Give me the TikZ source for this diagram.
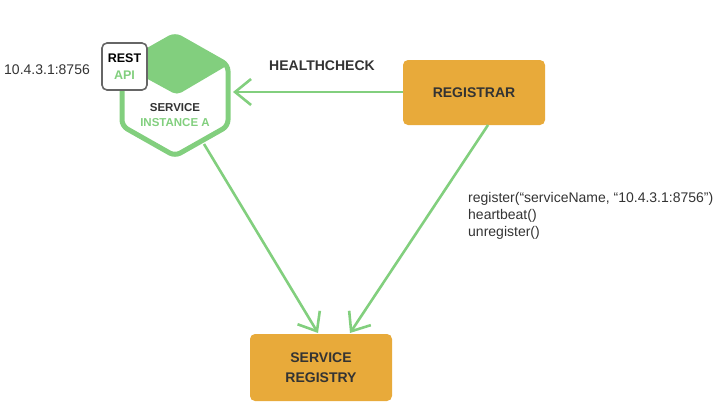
\documentclass[tikz,border=0pt]{standalone}
\usepackage{fontspec}
\setmainfont{Liberation Sans}
\usetikzlibrary{arrows.meta}
\definecolor{grn}{HTML}{82CF7E}
\definecolor{org}{HTML}{E8AA3A}
\definecolor{txt}{HTML}{333333}
\tikzset{
  orangebox/.style={fill=org, rounded corners=5pt, text=txt, font=\bfseries\fontsize{14}{20}\selectfont, align=center, inner sep=0pt},
  conn/.style={draw=grn, line width=2.6pt, -{Straight Barb[length=16pt,width=26pt,line width=2.6pt]}},
  lbl/.style={text=txt, inner sep=0pt}
}
\begin{document}
\begin{tikzpicture}[x=1pt,y=-1pt]
\useasboundingbox (0,0) rectangle (719,405);
% hexagon
\coordinate (ht) at (175,35);
\coordinate (hur) at (228,65);
\coordinate (hlr) at (228,126);
\coordinate (hb) at (175,156);
\coordinate (hll) at (122,126);
\coordinate (hul) at (122,65);
\coordinate (hc) at (177,95);
\fill[grn, rounded corners=5pt] (ht) -- (hur) -- (hc) -- (hul) -- cycle;
\draw[grn, line width=5pt, rounded corners=6pt] (ht) -- (hur) -- (hlr) -- (hb) -- (hll) -- (hul) -- cycle;
\node[lbl, font=\bfseries\fontsize{11.5}{15}\selectfont, align=center] (svc) at (175,115) {SERVICE\\\textcolor{grn}{INSTANCE A}};
% REST API box
\node[draw=gray!80!black, line width=1.6pt, fill=white, rounded corners=5pt, minimum width=45pt, minimum height=47pt, inner sep=0pt, align=center, font=\bfseries\fontsize{12.5}{17}\selectfont] (api) at (124.5,66.5) {REST\\\textcolor{grn}{API}};
\node[lbl, anchor=west, font=\fontsize{14}{16}\selectfont] (ip) at (4,70) {10.4.3.1:8756};
% registrar
\node[orangebox, minimum width=142pt, minimum height=65pt] (reg) at (474,92.5) {REGISTRAR};
\node[orangebox, minimum width=142pt, minimum height=67pt] (sr) at (321,367.5) {SERVICE\\REGISTRY};
\node[lbl, font=\bfseries\fontsize{14}{16}\selectfont] (hcl) at (322,66) {HEALTHCHECK};
\node[lbl, anchor=north west, align=left, font=\fontsize{14}{17}\selectfont] (calls) at (468,192) {register(“serviceName, “10.4.3.1:8756”)\\heartbeat()\\unregister()};
% connectors
\coordinate (hin) at (233,92);
\coordinate (hout) at (204,144);
\coordinate (s1) at (318,333);
\coordinate (s2) at (350,333);
\coordinate (rout) at (488,125);
\draw[conn] (reg.west |- hin) -- (hin);
\draw[conn] (hout) -- (s1);
\draw[conn] (rout) -- (s2);
\end{tikzpicture}
\end{document}
